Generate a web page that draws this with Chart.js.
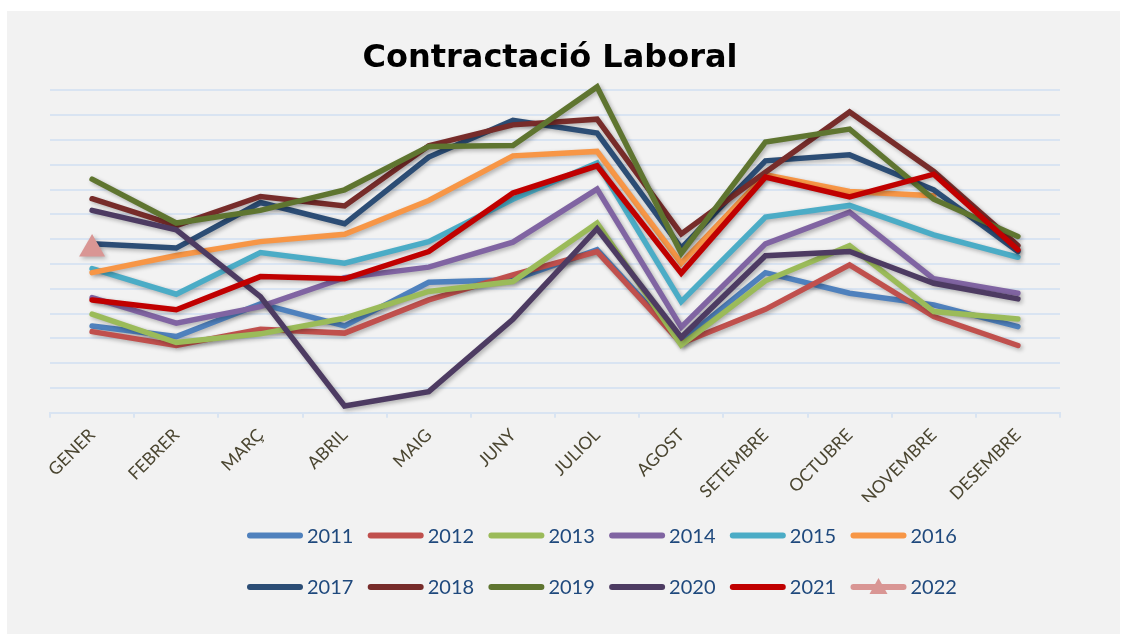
<!DOCTYPE html>
<html>
<head>
  <meta charset="UTF-8" />
  <title>Contractació Laboral</title>
  <style>
    body { margin: 0; background: #fff; }
    #wrap { position: absolute; left: 7px; top: 11px; width: 1113px; height: 623px; background: #f2f2f2; }
  </style>
</head>
<body>
  <div id="wrap"><canvas id="chart"></canvas></div>
  <script src="https://cdn.jsdelivr.net/npm/chart.js"></script>
  <script>
    // values, in grid steps (0..13)
    const months = ['GENER', 'FEBRER', 'MARÇ', 'ABRIL', 'MAIG', 'JUNY', 'JULIOL', 'AGOST', 'SETEMBRE', 'OCTUBRE', 'NOVEMBRE', 'DESEMBRE'];
    const years = ['2011', '2012', '2013', '2014', '2015', '2016', '2017', '2018', '2019', '2020', '2021', '2022'];
    const colors = ['#4f81bd', '#c0504d', '#9bbb59', '#8064a2', '#4bacc6', '#f79646', '#2c4d75', '#772c2a', '#5f7530', '#4d3b62', '#c00000', '#d99694'];

    const v2011 = [3.50, 3.07, 4.39, 3.50, 5.26, 5.36, 6.57, 2.87, 5.65, 4.82, 4.35, 3.47];
    const v2012 = [3.27, 2.71, 3.37, 3.21, 4.55, 5.56, 6.50, 2.80, 4.17, 5.96, 3.88, 2.71];
    const v2013 = [3.98, 2.83, 3.18, 3.81, 4.89, 5.29, 7.65, 2.73, 5.32, 6.74, 4.08, 3.78];
    const v2014 = [4.64, 3.61, 4.28, 5.45, 5.87, 6.88, 9.02, 3.45, 6.81, 8.09, 5.40, 4.82];
    const v2015 = [5.81, 4.78, 6.46, 6.03, 6.90, 8.61, 10.07, 4.48, 7.89, 8.36, 7.17, 6.27];
    const v2016 = [5.65, 6.34, 6.90, 7.20, 8.56, 10.36, 10.54, 6.03, 9.60, 8.92, 8.75, null];
    const v2017 = [6.81, 6.64, 8.48, 7.62, 10.31, 11.79, 11.28, 6.64, 10.16, 10.40, 8.99, 6.50];
    const v2018 = [8.63, 7.55, 8.72, 8.34, 10.77, 11.61, 11.84, 7.21, 9.70, 12.13, 9.73, 6.74];
    const v2019 = [9.42, 7.65, 8.16, 8.99, 10.74, 10.78, 13.14, 6.43, 10.92, 11.44, 8.61, 7.11];
    const v2020 = [8.16, 7.38, 4.68, 0.27, 0.85, 3.77, 7.42, 3.04, 6.33, 6.50, 5.22, 4.59];
    const v2021 = [4.55, 4.15, 5.49, 5.40, 6.50, 8.86, 9.96, 5.63, 9.50, 8.70, 9.62, 6.57];
    const v2022 = [6.6];

    const series = [v2011, v2012, v2013, v2014, v2015, v2016, v2017, v2018, v2019, v2020, v2021, v2022];

    Chart.defaults.font.family = 'Lato';

    const datasets = series.map((values, i) => {
      const last = i === series.length - 1;
      return {
        label: years[i],
        data: values,
        borderColor: colors[i],
        backgroundColor: colors[i],
        borderWidth: last ? 0 : 5.5,
        borderCapStyle: 'round',
        showLine: !last,
        pointRadius: last ? 15 : 0,
        pointStyle: last ? 'triangle' : 'circle',
        pointHoverRadius: last ? 15 : 0,
        order: series.length - i,
        clip: false
      };
    });
    // 2022 marker drawn on top of everything
    datasets[datasets.length - 1].order = 0;

    const shadow = {
      id: 'shadow',
      beforeDatasetDraw(chart) {
        const c = chart.ctx;
        c.save();
        c.shadowColor = 'rgba(0,0,0,0.28)';
        c.shadowBlur = 4;
        c.shadowOffsetX = 2;
        c.shadowOffsetY = 2;
      },
      afterDatasetDraw(chart) {
        chart.ctx.restore();
      }
    };

    // two centred rows of six, like the original
    const legendRows = {
      id: 'legendRows',
      afterDraw(chart) {
        const c = chart.ctx;
        c.save();
        c.font = '20px Lato';
        c.textBaseline = 'middle';
        years.forEach((y, i) => {
          const x = 240 + 120.7 * (i % 6);
          const yy = 524.5 + 51.5 * Math.floor(i / 6);
          c.strokeStyle = colors[i];
          c.lineWidth = 6;
          c.lineCap = 'round';
          c.beginPath();
          c.moveTo(x + 3, yy);
          c.lineTo(x + 53, yy);
          c.stroke();
          if (i === years.length - 1) {
            c.fillStyle = colors[i];
            c.beginPath();
            c.moveTo(x + 28, yy - 9);
            c.lineTo(x + 37, yy + 7);
            c.lineTo(x + 19, yy + 7);
            c.closePath();
            c.fill();
          }
          c.fillStyle = '#1f497d';
          c.fillText(y, x + 60, yy + 1);
        });
        c.restore();
      }
    };

    new Chart(document.getElementById('chart'), {
      type: 'line',
      data: { labels: months, datasets: datasets },
      options: {
        responsive: true,
        maintainAspectRatio: false,
        animation: false,
        layout: { padding: { top: 28, left: 33, right: 60, bottom: 132 } },
        plugins: {
          legend: { display: false },
          tooltip: { enabled: false },
          title: {
            display: true,
            text: 'Contractació Laboral',
            color: '#000',
            font: { family: 'DejaVu Sans', size: 32, weight: 'bold' },
            padding: { top: 0, bottom: 13 }
          }
        },
        scales: {
          x: {
            offset: true,
            afterFit: s => { s.height = 89.3; },
            border: { color: '#d9e4f2', width: 2 },
            grid: { offset: true, drawOnChartArea: false, drawTicks: true, tickLength: 5, color: '#d9e4f2', lineWidth: 2 },
            ticks: { color: '#4a4530', font: { size: 17.5 }, minRotation: 45, maxRotation: 45, autoSkip: false, padding: 7 }
          },
          y: {
            min: 0,
            max: 13,
            afterFit: s => { s.width = 10; },
            border: { display: false },
            grid: { color: '#d9e4f2', lineWidth: 2, drawTicks: false },
            ticks: { display: false, stepSize: 1 }
          }
        }
      },
      plugins: [shadow, legendRows]
    });
  </script>
</body>
</html>
